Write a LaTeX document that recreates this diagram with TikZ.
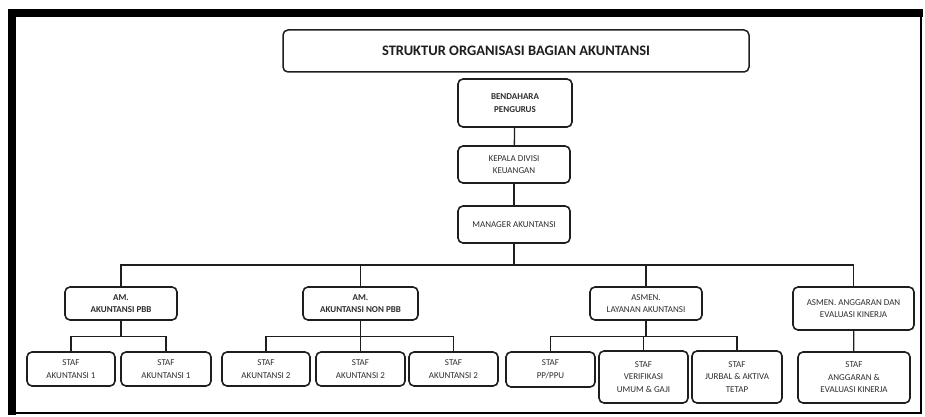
\documentclass[tikz,border=0pt]{standalone}
\usepackage{fontspec}
\setmainfont{Carlito}
\usepackage{xcolor}
\definecolor{ink}{HTML}{1E1E1E}
\definecolor{inkgray}{HTML}{2E2E2E}
\tikzset{
  unit/.style={draw=ink,fill=white,line width=1.6pt,rounded corners=5pt,
               align=center,inner sep=0pt,text=inkgray,
               font=\fontsize{9}{12.5}\selectfont},
  boldunit/.style={unit,font=\fontsize{9}{12.5}\selectfont\bfseries},
  titlebox/.style={unit,line width=1.5pt,text=ink,
                   font=\fontsize{14.5}{16}\selectfont\bfseries},
  link/.style={draw=ink,line width=1.3pt}
}
\begin{document}
\begin{tikzpicture}[x=1pt,y=-1pt]
    \path[use as bounding box,fill=white] (0,0) rectangle (925,417);

    % frame
    \fill[black] (8,9) rectangle (923,17);
    \fill[black] (8,9) rectangle (16,414.5);
    \draw[black,line width=2.4pt] (12,413) -- (921,413) -- (921,13);

    % top of the chart
    \node[titlebox,minimum width=466,minimum height=42] (title) at (516,51)
      {STRUKTUR ORGANISASI BAGIAN AKUNTANSI};
    \node[boldunit,minimum width=114,minimum height=48] (bend) at (515,103)
      {BENDAHARA\\PENGURUS};
    \node[unit,minimum width=112,minimum height=37] (kepala) at (514,164.5)
      {KEPALA DIVISI\\KEUANGAN};
    \node[unit,minimum width=112,minimum height=37] (manager) at (514,224.5)
      {MANAGER AKUNTANSI};

    % second level
    \node[boldunit,minimum width=112,minimum height=33] (ampbb) at (121,303.5)
      {AM.\\AKUNTANSI PBB};
    \node[boldunit,minimum width=115,minimum height=33] (amnon) at (360.5,303.5)
      {AM.\\AKUNTANSI NON PBB};
    \node[unit,minimum width=112,minimum height=33] (asmenlay) at (646,303.5)
      {ASMEN.\\LAYANAN AKUNTANSI};
    \node[unit,minimum width=121,minimum height=43] (asmenang) at (853.5,308.5)
      {ASMEN. ANGGARAN DAN\\EVALUASI KINERJA};

    % staff
    \node[unit,minimum width=88,minimum height=34] (sa1a) at (71,369)
      {STAF\\AKUNTANSI 1};
    \node[unit,minimum width=90,minimum height=34] (sa1b) at (166,369)
      {STAF\\AKUNTANSI 1};
    \node[unit,minimum width=88,minimum height=34] (sa2a) at (266,369)
      {STAF\\AKUNTANSI 2};
    \node[unit,minimum width=89,minimum height=34] (sa2b) at (360.5,369)
      {STAF\\AKUNTANSI 2};
    \node[unit,minimum width=89,minimum height=34] (sa2c) at (453.5,369)
      {STAF\\AKUNTANSI 2};
    \node[unit,minimum width=89,minimum height=35] (pp) at (550.5,369.5)
      {STAF\\PP/PPU};
    \node[unit,minimum width=89,minimum height=52] (verif) at (643.5,377)
      {STAF\\VERIFIKASI\\UMUM \& GAJI};
    \node[unit,minimum width=90,minimum height=52] (jurbal) at (737,377)
      {STAF\\JURBAL \& AKTIVA\\TETAP};
    \node[unit,minimum width=112,minimum height=51] (stafang) at (854,377.5)
      {STAF\\ANGGARAN \&\\EVALUASI KINERJA};

    % connectors
    \draw[link] (bend) -- (kepala);
    \draw[link] (kepala) -- (manager);
    \coordinate (mbus) at (514,265);
    \draw[link] (manager) -- (mbus);
    \foreach \n in {ampbb,amnon,asmenlay,asmenang}
      \draw[link] (mbus) -| (\n.north);
    \foreach \s in {sa1a,sa1b}
      \draw[link] (ampbb.south) -- ++(0,16) -| (\s.north);
    \foreach \s in {sa2a,sa2b,sa2c}
      \draw[link] (amnon.south) -- ++(0,16) -| (\s.north);
    \foreach \s in {pp,verif,jurbal}
      \draw[link] (asmenlay.south) -- ++(0,16) -| (\s.north);
    \draw[link] (asmenang) -- (stafang);
  \end{tikzpicture}
\end{document}
